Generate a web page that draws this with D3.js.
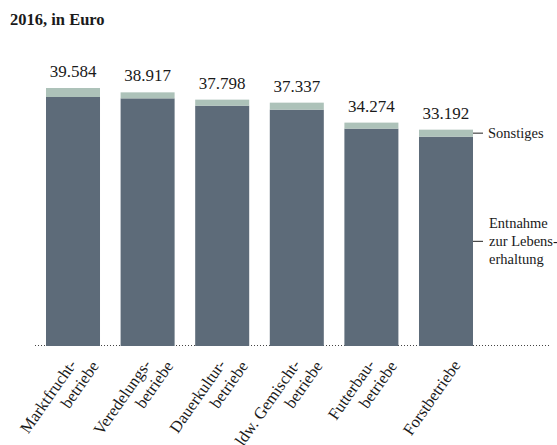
<!DOCTYPE html>
<meta charset="utf-8">
<style>
  body { margin: 0; background: #fff; }
  text { font-family: "Liberation Serif", "DejaVu Serif", serif; fill: #1a1a1a; }
</style>
<svg width="557" height="445"></svg>
<script src="https://d3js.org/d3.v7.min.js"></script>
<script>

var categories = [
    ["Marktfrucht-", "betriebe"],
    ["Veredelungs-", "betriebe"],
    ["Dauerkultur-", "betriebe"],
    ["ldw. Gemischt-", "betriebe"],
    ["Futterbau-", "betriebe"],
    ["Forstbetriebe"]
];
var totals = [39584, 38917, 37798, 37337, 34274, 33192];
var sonstiges = [1380, 920, 920, 1070, 920, 1070];
var valueLabels = ["39.584", "38.917", "37.798", "37.337", "34.274", "33.192"];

var svg = d3.select("svg");

var x = d3.scaleBand()
    .domain(d3.range(totals.length))
    .range([46, 473])
    .paddingInner(0.276)
    .paddingOuter(0);

var y = d3.scaleLinear()
    .domain([0, 39584])
    .range([346, 88]);

// title
svg.append("text")
    .attr("x", 10)
    .attr("y", 25)
    .style("font-weight", "bold")
    .style("font-size", "16.5px")
    .text("2016, in Euro");

// dotted baseline
svg.append("line")
    .attr("x1", 35).attr("x2", 550)
    .attr("y1", y(0) - 0.5).attr("y2", y(0) - 0.5)
    .attr("stroke", "#444")
    .attr("stroke-width", 1)
    .attr("stroke-dasharray", "1,2");

var bars = svg.append("g").selectAll("g")
    .data(totals)
    .join("g");

// Entnahme (dark part)
bars.append("rect")
    .attr("x", function (d, i) { return x(i); })
    .attr("width", x.bandwidth())
    .attr("y", function (d, i) { return y(d - sonstiges[i]); })
    .attr("height", function (d, i) { return y(0) - y(d - sonstiges[i]); })
    .attr("fill", "#5d6b79");

// Sonstiges (light top)
bars.append("rect")
    .attr("x", function (d, i) { return x(i); })
    .attr("width", x.bandwidth())
    .attr("y", function (d) { return y(d); })
    .attr("height", function (d, i) { return y(d - sonstiges[i]) - y(d); })
    .attr("fill", "#adc2b9");

// value labels
bars.append("text")
    .attr("x", function (d, i) { return x(i) + x.bandwidth() / 2; })
    .attr("y", function (d) { return y(d) - 11; })
    .attr("text-anchor", "middle")
    .style("font-size", "17px")
    .text(function (d, i) { return valueLabels[i]; });

// category labels, rotated
var labels = svg.append("g").selectAll("text")
    .data(categories)
    .join("text")
    .attr("transform", function (d, i) {
        return "translate(" + (x(i) + x.bandwidth() / 2 + 12) + "," + 363 + ") rotate(-55)";
    })
    .attr("text-anchor", "end")
    .style("font-size", "16.5px");

labels.selectAll("tspan")
    .data(function (d) {
        return d.map(function (t, j) { return {t: t, k: j - (d.length - 1) / 2}; });
    })
    .join("tspan")
    .attr("x", function (d) { return d.k * 11.6; })
    .attr("y", function (d) { return d.k * 19 + 4; })
    .text(function (d) { return d.t; });

// legend at the right of the last bar
var last = totals.length - 1,
    lx = x(last) + x.bandwidth();

var ySon = (y(totals[last]) + y(totals[last] - sonstiges[last])) / 2,
    yEnt = (y(0) + y(totals[last] - sonstiges[last])) / 2;

svg.append("line")
    .attr("x1", lx).attr("x2", lx + 10)
    .attr("y1", ySon).attr("y2", ySon)
    .attr("stroke", "#222");
svg.append("text")
    .attr("x", lx + 15)
    .attr("y", ySon + 4.5)
    .style("font-size", "14.5px")
    .text("Sonstiges");

svg.append("line")
    .attr("x1", lx).attr("x2", lx + 10)
    .attr("y1", yEnt).attr("y2", yEnt)
    .attr("stroke", "#222");
svg.append("text")
    .attr("x", lx + 16)
    .attr("y", yEnt + 4.5)
    .style("font-size", "14.5px")
    .selectAll("tspan")
    .data(["Entnahme", "zur Lebens-", "erhaltung"])
    .join("tspan")
    .attr("x", lx + 16)
    .attr("dy", function (d, i) { return i === 0 ? -18 : 18; })
    .text(function (d) { return d; });

</script>
